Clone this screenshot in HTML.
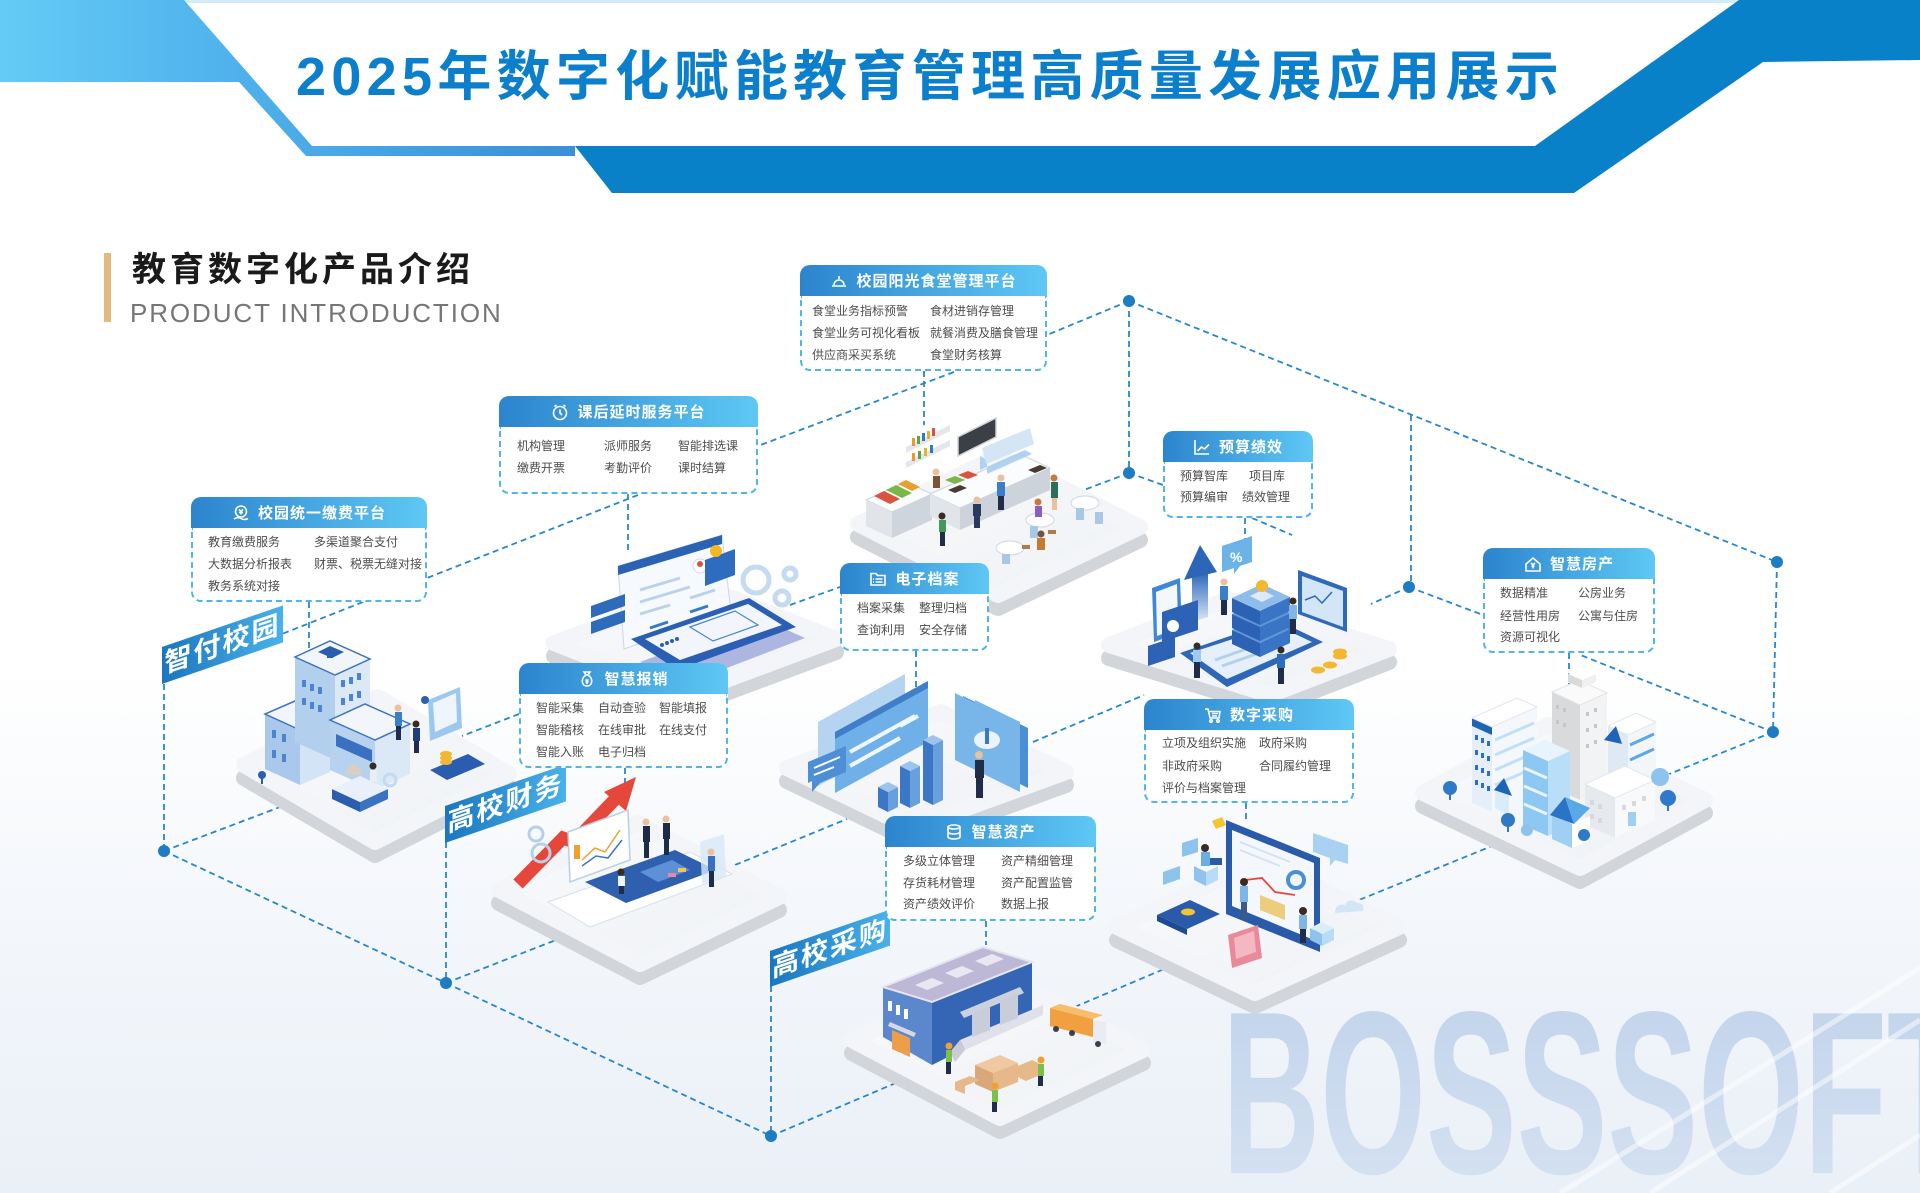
<!DOCTYPE html>
<html><head><meta charset="utf-8">
<style>
*{margin:0;padding:0;box-sizing:border-box}
html,body{width:1920px;height:1193px;overflow:hidden}
body{position:relative;background:linear-gradient(180deg,#ffffff 0%,#ffffff 56%,#f4f7fb 76%,#eaf0f7 100%);font-family:"Liberation Sans","Noto Sans CJK SC",sans-serif}
svg.bg{position:absolute;left:0;top:0}
.title{position:absolute;left:296px;top:46px;font-size:54px;line-height:62px;font-weight:bold;color:#0b7fcb;letter-spacing:5.3px;white-space:nowrap}
.bar{position:absolute;left:104px;top:253px;width:7px;height:69px;background:#e3b97f}
.sec{position:absolute;left:132px;top:250px;font-size:34px;line-height:40px;font-weight:bold;color:#1a1a1a;letter-spacing:4px;white-space:nowrap}
.sec2{position:absolute;left:130px;top:298px;font-size:26px;line-height:30px;color:#767676;letter-spacing:1.9px;white-space:nowrap}
.box{position:absolute}
.hd{height:31px;border-radius:10px 10px 0 0;background:linear-gradient(90deg,#2c84cd,#5ec8f5);display:flex;align-items:center;justify-content:center;color:#fff;font-weight:bold;font-size:15px;letter-spacing:1px;white-space:nowrap}
.hd svg{margin-right:8px;flex:none}
.bd{position:relative;background:#fff;border:2px dashed #52b4e8;border-top:none;border-radius:0 0 10px 10px}
.bd span{position:absolute;font-size:12px;line-height:16px;color:#4d4d4d;white-space:nowrap}
.lab{position:absolute;transform-origin:0 0;transform:skewY(-19deg);background:linear-gradient(90deg,#1b76bf,#49b2ea);color:#fff;font-weight:bold;font-size:27px;line-height:37px;letter-spacing:2px;text-align:center;white-space:nowrap}
</style></head><body>
<svg class="bg" width="1920" height="1193" viewBox="0 0 1920 1193">
<defs>
<linearGradient id="lb" x1="0" y1="0" x2="1" y2="0"><stop offset="0" stop-color="#64cbf6"/><stop offset="0.4" stop-color="#4fb2ec"/><stop offset="1" stop-color="#3a8fd6"/></linearGradient>
<linearGradient id="wm" x1="0" y1="0" x2="0" y2="1"><stop offset="0" stop-color="#bfd2eb"/><stop offset="1" stop-color="#d8e3f2"/></linearGradient>
<linearGradient id="pf" x1="0" y1="0" x2="1" y2="1"><stop offset="0" stop-color="#f9fafc"/><stop offset="1" stop-color="#eef1f4"/></linearGradient>
<linearGradient id="arr" x1="0" y1="0" x2="0" y2="1"><stop offset="0" stop-color="#2c66b8"/><stop offset="1" stop-color="#dbe8f6"/></linearGradient>
</defs>

<!-- header -->
<rect x="184" y="0" width="1555" height="3" fill="#d3ecf9"/>
<polygon points="0,0 184,0 312,146 575,146 575,156 306,156 239,82 0,82" fill="url(#lb)"/>
<polygon points="575,146 1535,146 1739,0 1920,0 1920,60 1763,62 1574,193 612,193" fill="#0881c9"/>

<!-- watermark -->
<text x="1222" y="1173" font-family="Liberation Sans, sans-serif" font-weight="bold" font-size="232" textLength="748" lengthAdjust="spacingAndGlyphs" fill="url(#wm)">BOSSSOFT</text>
<g stroke="#ffffff" stroke-width="5" opacity="0.5">
<line x1="1560" y1="1193" x2="1920" y2="968"/><line x1="1650" y1="1193" x2="1920" y2="1020"/><line x1="1830" y1="1193" x2="1920" y2="1135"/>
</g>

<!-- dashed connectors -->
<g fill="none" stroke="#2687cf" stroke-width="1.8" stroke-dasharray="6 4">
<path d="M1129,301 V473"/>
<path d="M1129,301 L1777,562"/>
<path d="M1129,301 L1047,335"/>
<path d="M924,371 V425"/>
<path d="M954,372 L758,446"/>
<path d="M628,494 V550"/>
<path d="M638,495 L427,578"/>
<path d="M309,602 V660"/>
<path d="M363,602 L282,634"/>
<path d="M164,684 V851"/>
<path d="M164,851 L446,983"/>
<path d="M164,851 L288,804"/>
<path d="M446,842 V983"/>
<path d="M446,983 L771,1136"/>
<path d="M446,983 L561,938"/>
<path d="M771,986 V1136"/>
<path d="M771,1136 L1190,958"/>
<path d="M625,768 V800"/>
<path d="M519,714 L462,736"/>
<path d="M735,865 L847,819"/>
<path d="M790,605 L840,587"/>
<path d="M916,651 V690"/>
<path d="M1033,742 L1144,695"/>
<path d="M1246,803 V822"/>
<path d="M986,921 V945"/>
<path d="M1129,473 L1076,493"/>
<path d="M1129,473 L1163,485"/>
<path d="M1245,518 V540"/>
<path d="M1252,518 L1292,535"/>
<path d="M1411,415 V587"/>
<path d="M1409,587 L1483,615"/>
<path d="M1409,587 L1371,604"/>
<path d="M1777,562 L1773,732"/>
<path d="M1773,732 L1578,654"/>
<path d="M1569,653 V697"/>
<path d="M1773,732 L1359,900"/>
</g>
<g fill="#1d7cc2">
<circle cx="1129" cy="301" r="6"/><circle cx="1129" cy="473" r="6"/><circle cx="1409" cy="587" r="6"/>
<circle cx="1777" cy="562" r="6"/><circle cx="1773" cy="732" r="6"/><circle cx="164" cy="851" r="6"/>
<circle cx="446" cy="983" r="6"/><circle cx="771" cy="1136" r="6"/>
</g>

<!-- platforms -->
<g stroke-linejoin="round" stroke-width="16">
<polygon points="858,537 998,608 1140,540 999,469" fill="#d2d5d9" stroke="#d2d5d9"/>
<polygon points="858,524 998,595 1140,527 999,456" fill="url(#pf)" stroke="#f3f5f8"/>
<polygon points="554,656 686,708 836,652 704,600" fill="#d2d5d9" stroke="#d2d5d9"/>
<polygon points="554,643 686,695 836,639 704,587" fill="url(#pf)" stroke="#f3f5f8"/>
<polygon points="244,778 375,855 509,787 378,710" fill="#d2d5d9" stroke="#d2d5d9"/>
<polygon points="244,765 375,842 509,774 378,697" fill="url(#pf)" stroke="#f3f5f8"/>
<polygon points="499,903 640,977 779,910 638,836" fill="#d2d5d9" stroke="#d2d5d9"/>
<polygon points="499,890 640,964 779,897 638,823" fill="url(#pf)" stroke="#f3f5f8"/>
<polygon points="787,781 912,841 1066,785 941,725" fill="#d2d5d9" stroke="#d2d5d9"/>
<polygon points="787,768 912,828 1066,772 941,712" fill="url(#pf)" stroke="#f3f5f8"/>
<polygon points="1109,658 1270,708 1389,662 1228,612" fill="#d2d5d9" stroke="#d2d5d9"/>
<polygon points="1109,645 1270,695 1389,649 1228,599" fill="url(#pf)" stroke="#f3f5f8"/>
<polygon points="1117,940 1255,1006 1399,940 1261,874" fill="#d2d5d9" stroke="#d2d5d9"/>
<polygon points="1117,927 1255,993 1399,927 1261,861" fill="url(#pf)" stroke="#f3f5f8"/>
<polygon points="852,1053 1000,1131 1143,1063 995,985" fill="#d2d5d9" stroke="#d2d5d9"/>
<polygon points="852,1040 1000,1118 1143,1050 995,972" fill="url(#pf)" stroke="#f3f5f8"/>
<polygon points="1423,806 1580,881 1705,813 1548,738" fill="#d2d5d9" stroke="#d2d5d9"/>
<polygon points="1423,793 1580,868 1705,800 1548,725" fill="url(#pf)" stroke="#f3f5f8"/>
</g>

<!-- P1 canteen -->
<g>
<polygon points="906,462 950,440 950,446 906,468" fill="#e3e7ec"/>
<polygon points="906,447 950,425 950,431 906,453" fill="#e3e7ec"/>
<g><rect x="912" y="438" width="3" height="8" fill="#e89a2c"/><rect x="917" y="436" width="3" height="8" fill="#5aa34a"/><rect x="922" y="433" width="3" height="8" fill="#2f7ac4"/><rect x="927" y="431" width="3" height="8" fill="#e0b430"/><rect x="932" y="428" width="3" height="8" fill="#d9533f"/><rect x="912" y="453" width="3" height="8" fill="#e89a2c"/><rect x="918" y="451" width="3" height="8" fill="#5aa34a"/><rect x="924" y="448" width="3" height="8" fill="#e0b430"/><rect x="930" y="445" width="3" height="8" fill="#2f7ac4"/></g>
<polygon points="958,437 996,418 996,437 958,456" fill="#3b3f46" stroke="#cfd3d8" stroke-width="1.5"/>
<polygon points="866,500 906,482 932,494 892,512" fill="#fbfcfd" stroke="#cfd4db"/>
<polygon points="866,500 892,512 892,538 866,526" fill="#e1e5ea"/>
<polygon points="892,512 932,494 932,520 892,538" fill="#cfd5dc"/>
<polygon points="874,496 884,491 900,499 890,504" fill="#d9533f"/><polygon points="886,490 896,485 912,493 902,498" fill="#7ab648"/><polygon points="898,484 906,480 920,487 912,491" fill="#e8a02c"/>
<polygon points="930,494 1020,454 1050,468 960,508" fill="#fbfcfd" stroke="#cfd4db"/>
<polygon points="930,494 960,508 960,530 930,516" fill="#e1e5ea"/>
<polygon points="960,508 1050,468 1050,490 960,530" fill="#cdd3da"/>
<polygon points="980,470 1025,450 1032,454 987,474 987,460 980,456" fill="#a9cdee" opacity="0.9"/>
<polygon points="982,448 1030,428 1034,444 986,464" fill="#cfe3f5" opacity="0.9"/>
<polygon points="1028,470 1040,465 1047,468 1035,473" fill="#4a3a33"/>
<polygon points="948,490 960,485 967,488 955,493" fill="#4a3a33"/>
<polygon points="945,480 955,476 965,480 955,484" fill="#7ab648"/><polygon points="958,475 968,471 978,475 968,479" fill="#d9533f"/>
<ellipse cx="1010" cy="548" rx="14" ry="7" fill="#fff" stroke="#cfd6de"/>
<ellipse cx="1040" cy="520" rx="14" ry="7" fill="#fff" stroke="#cfd6de"/>
<ellipse cx="1085" cy="503" rx="14" ry="7" fill="#fff" stroke="#cfd6de"/>
<g fill="#a9c7e6"><rect x="1030" y="526" width="8" height="12"/><rect x="1076" y="508" width="8" height="12"/><rect x="1095" y="512" width="8" height="12"/><rect x="1002" y="554" width="8" height="10"/></g>
<g fill="#b07a4f"><rect x="1048" y="530" width="8" height="4"/><rect x="1022" y="545" width="8" height="4"/></g>
<g><rect x="933" y="476" width="7" height="12" fill="#7a5235"/><circle cx="936" cy="472" r="3.5" fill="#e9c19f"/></g>
<g><rect x="973" y="504" width="8" height="12" fill="#2a3a5c"/><rect x="974" y="516" width="6" height="12" fill="#2a3a5c"/><circle cx="977" cy="500" r="3.5" fill="#e9c19f"/></g>
<g><rect x="997" y="482" width="8" height="14" fill="#3b7fc8"/><rect x="998" y="496" width="6" height="14" fill="#1f2c4a"/><circle cx="1001" cy="478" r="3.5" fill="#e9c19f"/></g>
<g><rect x="1051" y="482" width="7" height="16" fill="#2e6f5a"/><rect x="1052" y="498" width="5" height="12" fill="#e9c19f"/><circle cx="1054" cy="478" r="3.5" fill="#c77a3a"/></g>
<g><rect x="939" y="520" width="7" height="12" fill="#3f9a5c"/><rect x="940" y="532" width="5" height="14" fill="#1f2c4a"/><circle cx="942" cy="516" r="3.5" fill="#3a2a20"/></g>
<g><rect x="1037" y="538" width="8" height="12" fill="#c27a35"/><circle cx="1041" cy="534" r="3.5" fill="#7a5235"/></g>
<g><rect x="1035" y="506" width="7" height="11" fill="#8a5fc2"/><circle cx="1038" cy="502" r="3.5" fill="#c77a3a"/></g>
</g>

<!-- P2 after-school -->
<g>
<polygon points="640,662 760,618 805,638 685,684" fill="#8f9bd5" opacity="0.7"/>
<polygon points="618,566 722,535 731,612 624,649" fill="#f6f9fd" stroke="#c7d8ec"/>
<polygon points="618,566 722,535 722,544 618,575" fill="#2a62b4"/>
<g stroke="#bcd1ea" stroke-width="3"><line x1="640" y1="590" x2="680" y2="578"/><line x1="640" y1="602" x2="690" y2="587"/><line x1="640" y1="614" x2="670" y2="605"/><line x1="690" y1="598" x2="715" y2="590"/></g>
<g stroke="#3a78c8" stroke-width="3"><line x1="690" y1="612" x2="708" y2="606"/><line x1="650" y1="628" x2="668" y2="622"/></g>
<circle cx="700" cy="566" r="7" fill="#fff" stroke="#cfdcec"/><circle cx="700" cy="564" r="3" fill="#d9533f"/>
<polygon points="705,560 735,549 735,575 705,586" fill="#2e6cc0"/>
<circle cx="716" cy="551" r="6" fill="#f5b820"/>
<polygon points="591,606 625,594 625,606 591,618" fill="#2f6bbb"/>
<polygon points="591,622 625,610 625,622 591,634" fill="#2f6bbb"/>
<polygon points="631,639 749,598 796,627 677,670" fill="#2a5fb4"/>
<polygon points="645,639 748,604 782,625 680,660" fill="#f2f6fc"/>
<polygon points="690,627 735,611 758,625 713,641" fill="none" stroke="#4a86d0" stroke-width="1.2"/>
<g fill="#2a5fb4"><circle cx="662" cy="645" r="2"/><circle cx="667" cy="643" r="2"/><circle cx="672" cy="641" r="2"/><circle cx="677" cy="639" r="2"/></g>
<g fill="none" stroke="#c4daf0" stroke-width="5"><circle cx="756" cy="580" r="13"/><circle cx="782" cy="598" r="7"/><circle cx="790" cy="574" r="6"/></g>
</g>

<!-- P3 campus building -->
<g>
<polygon points="300,785 265,769 265,714 300,730" fill="#a9c8ec"/>
<polygon points="300,785 330,772 330,717 300,730" fill="#d3e4f6"/>
<polygon points="300,730 265,714 295,701 330,717" fill="#f2f6fb" stroke="#3e73c1" stroke-width="1.5"/>
<polygon points="335,760 295,742 295,657 335,675" fill="#b3cfee"/>
<polygon points="335,760 370,744 370,659 335,675" fill="#dbe9f7"/>
<polygon points="335,675 295,657 330,641 370,659" fill="#f2f6fb" stroke="#3e73c1" stroke-width="1.5"/>
<polygon points="318,652 330,646 344,652 332,658" fill="#2b5fae"/><rect x="327" y="652" width="6" height="6" fill="#2b5fae"/>
<g fill="#4d84cf"><rect x="302" y="680" width="4" height="7"/><rect x="310" y="684" width="4" height="7"/><rect x="318" y="687" width="4" height="7"/><rect x="302" y="698" width="4" height="7"/><rect x="310" y="702" width="4" height="7"/><rect x="318" y="705" width="4" height="7"/><rect x="341" y="680" width="4" height="7"/><rect x="349" y="677" width="4" height="7"/><rect x="357" y="673" width="4" height="7"/><rect x="341" y="698" width="4" height="7"/><rect x="349" y="694" width="4" height="7"/><rect x="357" y="691" width="4" height="7"/><rect x="272" y="730" width="4" height="8"/><rect x="282" y="734" width="4" height="8"/><rect x="272" y="750" width="4" height="8"/><rect x="282" y="754" width="4" height="8"/></g>
<polygon points="375,790 330,770 330,720 375,740" fill="#b7d2ef"/>
<polygon points="375,790 410,774 410,724 375,740" fill="#dbe9f7"/>
<polygon points="375,740 330,720 365,704 410,724" fill="#f2f6fb" stroke="#3e73c1" stroke-width="1.5"/>
<polygon points="336,734 372,750 372,762 336,746" fill="#3a70c0"/>
<path d="M345,775 q8,-22 18,0 z" fill="#d8cfc4"/>
<polygon points="360,812 332,799 332,789 360,802" fill="#2b5fae"/>
<polygon points="360,812 388,799 388,789 360,802" fill="#3b72c2"/>
<polygon points="360,802 332,789 360,776 388,789" fill="#e9f0f9"/>
<polygon points="428,700 460,687 462,728 430,741" fill="#9cc8ef"/>
<polygon points="433,703 456,693 457,722 435,732" fill="#eef5fc"/>
<polygon points="430,770 468,754 485,764 447,780" fill="#2a5db0"/>
<g fill="#f3b731"><ellipse cx="446" cy="762" rx="6" ry="3"/><ellipse cx="446" cy="758" rx="6" ry="3"/><ellipse cx="446" cy="754" rx="6" ry="3"/></g>
<g><rect x="395" y="712" width="7" height="14" fill="#3b7fc8"/><rect x="396" y="726" width="5" height="14" fill="#1f2c4a"/><circle cx="398" cy="708" r="3.5" fill="#e9c19f"/></g>
<g><rect x="413" y="728" width="7" height="13" fill="#1f3f7a"/><rect x="414" y="741" width="5" height="12" fill="#1f2c4a"/><circle cx="416" cy="724" r="3.5" fill="#3a2a20"/></g>
<g><rect x="370" y="770" width="7" height="12" fill="#e9eef5"/><circle cx="373" cy="766" r="3.5" fill="#3a2a20"/></g>
<circle cx="390" cy="780" r="6" fill="none" stroke="#c4daf0" stroke-width="3"/>
<g fill="#2b5fae"><circle cx="262" cy="775" r="4"/><rect x="261" y="778" width="2" height="6"/><circle cx="425" cy="700" r="4"/></g>
</g>

<!-- P4 finance -->
<g>
<polygon points="548,902 690,852 732,874 590,927" fill="#ffffff" stroke="#d6e0eb"/>
<polygon points="585,882 675,850 716,870 626,903" fill="#2f60b0"/>
<polygon points="640,872 672,860 690,870 658,882" fill="#5d90d6"/>
<g fill="#f1c84a"><rect x="678" y="868" width="8" height="4"/></g>
<g fill="#e58aa0"><rect x="668" y="873" width="8" height="4"/></g>
<polyline points="518,884 563,838 574,842 622,792" fill="none" stroke="#e5483a" stroke-width="13" stroke-linejoin="miter"/>
<polygon points="636,777 626,811 604,792" fill="#e5483a"/>
<polygon points="568,832 628,810 630,860 570,882" fill="#ffffff" stroke="#b9cfe6" stroke-width="1.5"/>
<rect x="574" y="845" width="6" height="14" fill="#f0a030"/>
<polyline points="582,860 595,848 605,852 620,830" fill="none" stroke="#f0a030" stroke-width="1.5"/>
<polyline points="582,866 596,856 608,858 622,840" fill="none" stroke="#3a78c8" stroke-width="1.5"/>
<g><rect x="643" y="826" width="7" height="16" fill="#1e2b48"/><rect x="644" y="842" width="5" height="16" fill="#1e2b48"/><circle cx="646" cy="822" r="3.5" fill="#e9c19f"/></g>
<g><rect x="663" y="823" width="7" height="16" fill="#1e2b48"/><rect x="664" y="839" width="5" height="16" fill="#1e2b48"/><circle cx="666" cy="819" r="3.5" fill="#e9c19f"/></g>
<polygon points="700,842 724,834 726,876 702,884" fill="#d7e8f7" opacity="0.8"/>
<g><rect x="708" y="856" width="7" height="15" fill="#3b6fc4"/><rect x="709" y="871" width="5" height="16" fill="#1f2c4a"/><circle cx="711" cy="852" r="3.5" fill="#e9c19f"/></g>
<g><rect x="618" y="876" width="7" height="10" fill="#eef3f9"/><rect x="619" y="886" width="5" height="8" fill="#1f2c4a"/><circle cx="621" cy="872" r="3.5" fill="#3a2a20"/></g>
<g fill="none" stroke="#b6d0ea" stroke-width="3"><circle cx="536" cy="834" r="7"/><circle cx="541" cy="853" r="9"/></g>
</g>

<!-- P5 archive -->
<g>
<polygon points="818,722 905,674 905,738 818,786" fill="#b5d4f1"/>
<polygon points="835,732 928,681 928,742 835,793" fill="#6fb0e8"/>
<polygon points="835,732 928,681 928,688 835,739" fill="#3f7ec8"/>
<g stroke="#ffffff" stroke-width="4" opacity="0.9"><line x1="850" y1="752" x2="915" y2="716"/><line x1="850" y1="766" x2="900" y2="738"/><line x1="900" y1="726" x2="918" y2="716"/></g>
<polygon points="808,762 846,746 846,772 820,783 812,792 812,781 808,783" fill="#4d8ed6"/>
<g stroke="#fff" stroke-width="2"><line x1="814" y1="768" x2="840" y2="757"/><line x1="814" y1="775" x2="834" y2="767"/></g>
<polygon points="888,812 878,807 878,787 888,792" fill="#3c77c6"/><polygon points="888,812 898,807 898,787 888,792" fill="#68a0dd"/><polygon points="888,792 878,787 888,782 898,787" fill="#9cc4ec"/>
<polygon points="910,808 900,803 900,766 910,771" fill="#3c77c6"/><polygon points="910,808 920,803 920,766 910,771" fill="#68a0dd"/><polygon points="910,771 900,766 910,761 920,766" fill="#9cc4ec"/>
<polygon points="933,805 923,800 923,740 933,745" fill="#3c77c6"/><polygon points="933,805 943,800 943,740 933,745" fill="#68a0dd"/><polygon points="933,745 923,740 933,735 943,740" fill="#9cc4ec"/>
<polygon points="963,696 1028,728 1028,788 963,756" fill="#4a8fd6"/>
<polygon points="955,693 975,703 975,700 1020,722 1020,792 955,760" fill="#78b6ea"/>
<ellipse cx="987" cy="740" rx="13" ry="9" fill="#ffffff" opacity="0.85"/>
<rect x="985" y="728" width="4" height="16" fill="#3c77c6"/>
<g><rect x="975" y="760" width="9" height="18" fill="#1f2c4a"/><rect x="976" y="778" width="7" height="20" fill="#1f2c4a"/><circle cx="979" cy="755" r="4" fill="#e9c19f"/></g>
</g>

<!-- P6 budget -->
<g>
<polygon points="1180,653 1277,620 1323,642 1227,687" fill="#2f67b8"/>
<polygon points="1190,653 1276,625 1312,642 1227,679" fill="#e6f0fa"/>
<g stroke="#a9c9ec" stroke-width="3" opacity="0.8"><line x1="1215" y1="660" x2="1255" y2="646"/><line x1="1222" y1="666" x2="1262" y2="652"/></g>
<polygon points="1260,657 1232,644 1232,630 1260,643" fill="#2b62b3"/><polygon points="1260,657 1290,643 1290,629 1260,643" fill="#3a74c4"/><polygon points="1260,643 1232,630 1262,616 1290,629" fill="#5d95d8"/>
<polygon points="1260,641 1232,628 1232,614 1260,627" fill="#2b62b3"/><polygon points="1260,641 1290,627 1290,613 1260,627" fill="#3a74c4"/><polygon points="1260,627 1232,614 1262,600 1290,613" fill="#5d95d8"/>
<polygon points="1260,625 1232,612 1232,598 1260,611" fill="#2b62b3"/><polygon points="1260,625 1290,611 1290,597 1260,611" fill="#3a74c4"/><polygon points="1260,611 1232,598 1262,584 1290,597" fill="#8ebdeb"/>
<polygon points="1250,596 1262,590 1274,596 1262,602" fill="#ffffff" opacity="0.7"/>
<circle cx="1262" cy="586" r="6" fill="#f3b731"/>
<polygon points="1192,578 1208,572 1208,617 1192,622" fill="url(#arr)"/>
<polygon points="1184,580 1200,545 1217,572" fill="#2c66b8"/>
<polygon points="1152,588 1180,578 1182,632 1154,642" fill="#3f88d8"/><polygon points="1156,592 1177,584 1178,628 1157,636" fill="#f4f8fc"/>
<polygon points="1162,612 1198,600 1198,630 1162,642" fill="#2d63b4"/><circle cx="1173" cy="626" r="6" fill="#fff"/>
<polygon points="1148,646 1175,637 1175,657 1148,666" fill="#2d63b4"/>
<polygon points="1298,570 1347,588 1347,632 1298,614" fill="#2f6ab8"/><polygon points="1302,576 1343,591 1343,627 1302,612" fill="#d3e6f8"/>
<polyline points="1305,600 1315,596 1322,603 1332,592" fill="none" stroke="#2f6ab8" stroke-width="1.5"/>
<polygon points="1222,546 1252,536 1252,562 1240,566 1234,574 1234,568 1222,572" fill="#6cb3e8"/>
<text x="1230" y="562" font-family="Liberation Sans, sans-serif" font-weight="bold" font-size="14" fill="#fff">%</text>
<g fill="#f3b731"><ellipse cx="1330" cy="665" rx="7" ry="3.5"/><ellipse cx="1340" cy="656" rx="7" ry="3.5"/><ellipse cx="1340" cy="652" rx="7" ry="3.5"/><ellipse cx="1318" cy="670" rx="7" ry="3.5"/></g>
<g><rect x="1220" y="586" width="8" height="14" fill="#3b7fc8"/><rect x="1221" y="600" width="6" height="15" fill="#1f2c4a"/><circle cx="1224" cy="582" r="3.5" fill="#e9c19f"/></g>
<g><rect x="1289" y="605" width="8" height="14" fill="#7fb6e6"/><rect x="1290" y="619" width="6" height="15" fill="#1f2c4a"/><circle cx="1293" cy="601" r="3.5" fill="#3a2a20"/></g>
<g><rect x="1277" y="654" width="8" height="14" fill="#2e6cc0"/><rect x="1278" y="668" width="6" height="16" fill="#1f2c4a"/><circle cx="1281" cy="650" r="3.5" fill="#3a2a20"/></g>
<g><rect x="1193" y="650" width="8" height="12" fill="#9fcaf0"/><rect x="1194" y="662" width="6" height="16" fill="#1f2c4a"/><circle cx="1197" cy="646" r="3.5" fill="#3a2a20"/></g>
</g>

<!-- P7 procurement -->
<g>
<polygon points="1226,820 1320,858 1320,952 1226,914" fill="#2a5aaa"/>
<polygon points="1232,830 1314,863 1314,940 1232,906" fill="#f4f8fc"/>
<g stroke="#d3e3f3" stroke-width="2"><line x1="1240" y1="842" x2="1290" y2="862"/><line x1="1240" y1="850" x2="1280" y2="866"/></g>
<polyline points="1245,880 1262,878 1275,892 1295,895" fill="none" stroke="#e5483a" stroke-width="1.8"/>
<circle cx="1296" cy="880" r="8" fill="none" stroke="#4a8fd6" stroke-width="4"/>
<polygon points="1260,895 1285,905 1285,920 1260,910" fill="#e8c25a" opacity="0.8"/>
<polygon points="1313,833 1348,845 1348,864 1335,860 1330,866 1330,858 1313,852" fill="#a9d2f2"/>
<polygon points="1182,843 1198,838 1198,852 1182,857" fill="#8ec3ee"/>
<polygon points="1163,872 1180,866 1180,879 1163,885" fill="#8ec3ee"/>
<polygon points="1212,821 1222,817 1226,825 1216,829" fill="#f3c531"/>
<polygon points="1157,915 1190,900 1220,914 1187,929" fill="#2a5aaa"/><polygon points="1157,915 1187,929 1187,935 1157,921" fill="#1e4a92"/>
<ellipse cx="1188" cy="912" rx="7" ry="3.5" fill="#f3c531"/>
<polygon points="1206,886 1194,880 1194,866 1206,872" fill="#8ec3ee"/><polygon points="1206,886 1218,880 1218,866 1206,872" fill="#b8dcf6"/>
<g><rect x="1201" y="852" width="9" height="14" fill="#6aaee6"/><circle cx="1205" cy="848" r="4" fill="#3a2a20"/><rect x="1210" y="858" width="12" height="7" fill="#2a5aaa"/></g>
<polygon points="1228,935 1258,925 1262,958 1232,968" fill="#e98a9a"/><polygon points="1234,938 1254,931 1256,952 1236,959" fill="#f4b8c2"/>
<g><rect x="1240" y="886" width="8" height="16" fill="#7fb6e6"/><rect x="1241" y="902" width="6" height="18" fill="#3a5a8a"/><circle cx="1244" cy="882" r="4" fill="#3a2a20"/></g>
<g><rect x="1299" y="915" width="8" height="14" fill="#7fb6e6"/><rect x="1300" y="929" width="6" height="14" fill="#1f2c4a"/><circle cx="1303" cy="911" r="4" fill="#3a2a20"/></g>
<polygon points="1322,946 1310,940 1310,928 1322,934" fill="#8ec3ee"/><polygon points="1322,946 1334,940 1334,928 1322,934" fill="#b8dcf6"/><polygon points="1322,934 1310,928 1322,922 1334,928" fill="#dcedfa"/>
<path d="M1335,913 q0,-10 10,-8 q4,-8 12,-2 q8,0 6,8 z" fill="#d2e6f6"/>
</g>

<!-- P8 warehouse -->
<g>
<polygon points="883,987 883,1037 932,1065 932,1002" fill="#5b87cc"/>
<polygon points="932,1002 1032,962 1032,1015 932,1065" fill="#3566b5"/>
<polygon points="883,987 983,947 1032,962 932,1002" fill="#bdb8d6" stroke="#e6e4ee" stroke-width="2"/>
<g fill="#e9e8f2"><polygon points="915,985 932,978 944,983 927,990"/><polygon points="945,973 962,966 974,971 957,978"/><polygon points="975,961 992,954 1004,959 987,966"/></g>
<g fill="#ffffff"><rect x="888" y="1001" width="4" height="10"/><rect x="896" y="1005" width="4" height="10"/><rect x="904" y="1009" width="4" height="10"/></g>
<polygon points="892,1030 910,1038 910,1057 892,1049" fill="#ee9d48"/>
<polygon points="888,1026 914,1037 916,1033 890,1022" fill="#d8d8e4"/>
<polygon points="960,1040 1043,1005 1043,1015 965,1050" fill="#dfe0ea"/>
<polygon points="960,1040 965,1050 955,1062 950,1052" fill="#c9cbd8"/>
<polygon points="960,1012 1020,987 1024,993 964,1018" fill="#cdd0de"/>
<g fill="#c9ccd9"><polygon points="972,1013 990,1006 990,1030 972,1037"/><polygon points="1000,1001 1018,994 1018,1018 1000,1025"/></g>
<polygon points="1050,1008 1093,1019 1093,1037 1050,1026" fill="#f0a040"/>
<polygon points="1050,1008 1060,1004 1103,1015 1093,1019" fill="#f7bd6a"/>
<polygon points="1093,1020 1106,1022 1106,1044 1093,1042" fill="#e9edf3"/>
<g fill="#3a3f4a"><circle cx="1056" cy="1029" r="3"/><circle cx="1072" cy="1033" r="3"/><circle cx="1098" cy="1044" r="3"/></g>
<polygon points="975,1065 1000,1055 1018,1063 993,1073" fill="#efc9a2"/>
<polygon points="975,1065 993,1073 993,1092 975,1084" fill="#d9a77a"/>
<polygon points="993,1073 1018,1063 1018,1082 993,1092" fill="#e6b88a"/>
<polygon points="955,1082 970,1076 980,1080 965,1086 965,1094 955,1090" fill="#e6b88a"/>
<polygon points="1018,1066 1032,1060 1040,1064 1040,1075 1026,1081 1018,1077" fill="#e6b88a"/>
<g><rect x="946" y="1050" width="6" height="12" fill="#7ac04a"/><rect x="946" y="1062" width="5" height="12" fill="#1f2c4a"/><circle cx="949" cy="1046" r="3.5" fill="#f0a030"/></g>
<g><rect x="992" y="1090" width="6" height="12" fill="#7ac04a"/><rect x="992" y="1102" width="5" height="10" fill="#1f2c4a"/><circle cx="995" cy="1086" r="3.5" fill="#f0a030"/></g>
<g><rect x="1038" y="1064" width="6" height="12" fill="#7ac04a"/><rect x="1038" y="1076" width="5" height="10" fill="#1f2c4a"/><circle cx="1041" cy="1060" r="3.5" fill="#f0a030"/></g>
</g>

<!-- P9 real estate -->
<g>
<polygon points="1492,812 1472,803 1472,718 1492,727" fill="#e6eff9"/>
<polygon points="1472,718 1492,727 1492,735 1472,726" fill="#1e64b5"/>
<g fill="#2a6fc0"><rect x="1475" y="735" width="3" height="5"/><rect x="1481" y="738" width="3" height="5"/><rect x="1487" y="741" width="3" height="5"/><rect x="1475" y="750" width="3" height="5"/><rect x="1481" y="753" width="3" height="5"/><rect x="1487" y="756" width="3" height="5"/><rect x="1475" y="765" width="3" height="5"/><rect x="1481" y="768" width="3" height="5"/><rect x="1487" y="771" width="3" height="5"/><rect x="1475" y="780" width="3" height="5"/><rect x="1481" y="783" width="3" height="5"/><rect x="1487" y="786" width="3" height="5"/></g>
<polygon points="1492,812 1537,792 1537,707 1492,727" fill="#f4f8fc"/>
<g stroke="#bfe0f7" stroke-width="3"><line x1="1495" y1="740" x2="1534" y2="723"/><line x1="1495" y1="755" x2="1534" y2="738"/><line x1="1495" y1="770" x2="1534" y2="753"/><line x1="1495" y1="785" x2="1534" y2="768"/></g>
<polygon points="1492,727 1472,718 1517,698 1537,707" fill="#ffffff" stroke="#e1e6ec"/>
<polygon points="1580,800 1552,787 1552,692 1580,705" fill="#d9dadc"/>
<polygon points="1580,800 1607,788 1607,693 1580,705" fill="#f2f3f5"/>
<polygon points="1580,705 1552,692 1579,680 1607,693" fill="#fafafa" stroke="#e4e4e6"/>
<polygon points="1582,688 1568,682 1568,674 1582,680" fill="#d9dadc"/><polygon points="1582,688 1596,682 1596,674 1582,680" fill="#f0f0f2"/><polygon points="1582,680 1568,674 1582,668 1596,674" fill="#fff"/>
<g fill="#c4c6ca"><rect x="1556" y="705" width="3" height="4"/><rect x="1563" y="708" width="3" height="4"/><rect x="1556" y="720" width="3" height="4"/><rect x="1563" y="723" width="3" height="4"/><rect x="1586" y="712" width="3" height="4"/><rect x="1594" y="708" width="3" height="4"/><rect x="1586" y="728" width="3" height="4"/><rect x="1594" y="724" width="3" height="4"/><rect x="1586" y="744" width="3" height="4"/><rect x="1594" y="740" width="3" height="4"/></g>
<polygon points="1628,790 1608,781 1608,726 1628,735" fill="#dfe9f3"/>
<polygon points="1628,790 1656,777 1656,722 1628,735" fill="#f3f6f9"/>
<g stroke="#5aa8e6" stroke-width="3"><line x1="1630" y1="745" x2="1654" y2="734"/><line x1="1630" y1="760" x2="1654" y2="749"/></g>
<polygon points="1628,735 1608,726 1636,713 1656,722" fill="#fff" stroke="#e4e6ea"/>
<polygon points="1604,740 1616,726 1622,744" fill="#1e64b5"/>
<polygon points="1548,836 1523,825 1523,750 1548,761" fill="#8cc8f2"/>
<polygon points="1548,836 1570,826 1570,751 1548,761" fill="#b9def8"/>
<g stroke="#e9f5fd" stroke-width="3"><line x1="1524" y1="768" x2="1547" y2="778"/><line x1="1524" y1="786" x2="1547" y2="796"/><line x1="1524" y1="804" x2="1547" y2="814"/></g>
<polygon points="1548,761 1523,750 1545,740 1570,751" fill="#e8f4fc"/>
<polygon points="1615,838 1585,824 1585,784 1615,798" fill="#e6e9ee"/>
<polygon points="1615,838 1655,820 1655,780 1615,798" fill="#f8f9fb"/>
<polygon points="1615,798 1585,784 1625,766 1655,780" fill="#ffffff" stroke="#e4e6ea"/>
<g fill="#d6dade"><rect x="1590" y="800" width="4" height="5"/><rect x="1598" y="804" width="4" height="5"/><rect x="1590" y="814" width="4" height="5"/><rect x="1598" y="818" width="4" height="5"/><rect x="1622" y="805" width="4" height="5"/><rect x="1632" y="801" width="4" height="5"/><rect x="1642" y="796" width="4" height="5"/></g>
<rect x="1628" y="812" width="8" height="14" fill="#9fd0f3"/>
<polygon points="1572,848 1552,839 1552,815 1572,824" fill="#9fd0f3"/>
<polygon points="1572,848 1590,840 1590,816 1572,824" fill="#ffffff"/>
<polygon points="1550,815 1565,797 1574,824" fill="#2a74c8"/><polygon points="1565,797 1590,808 1574,824" fill="#5aa8e6"/>
<polygon points="1509,815 1495,808 1495,788 1509,795" fill="#d8ecfa"/><polygon points="1494,790 1504,778 1512,796" fill="#1e64b5"/>
<g fill="#2f7ac8"><circle cx="1450" cy="788" r="7"/><circle cx="1668" cy="798" r="8"/><circle cx="1508" cy="820" r="7"/><circle cx="1584" cy="835" r="6"/></g>
<g fill="#8ec3ee"><circle cx="1660" cy="777" r="9"/><circle cx="1527" cy="830" r="6"/></g>
<g fill="#2f7ac8"><rect x="1449" y="794" width="2" height="6"/><rect x="1667" y="805" width="2" height="6"/><rect x="1507" y="826" width="2" height="6"/></g>
</g>
</svg>

<div class="title">2025年数字化赋能教育管理高质量发展应用展示</div>
<div class="bar"></div>
<div class="sec">教育数字化产品介绍</div>
<div class="sec2">PRODUCT INTRODUCTION</div>

<div class="lab" style="left:162px;top:647px;width:121px;height:37px">智付校园</div>
<div class="lab" style="left:445px;top:806px;width:121px;height:37px">高校财务</div>
<div class="lab" style="left:770px;top:951px;width:120px;height:36px">高校采购</div>

<div class="box" style="left:800px;top:265px;width:247px">
<div class="hd"><svg width="18" height="18" viewBox="0 0 18 18" fill="none" stroke="#fff" stroke-width="1.6"><path d="M2 14h14M4 13a5 5 0 0 1 10 0M9 4v3"/></svg>校园阳光食堂管理平台</div>
<div class="bd" style="height:75px">
<span style="left:10px;top:7px">食堂业务指标预警</span><span style="left:128px;top:7px">食材进销存管理</span>
<span style="left:10px;top:29px">食堂业务可视化看板</span><span style="left:128px;top:29px">就餐消费及膳食管理</span>
<span style="left:10px;top:51px">供应商采买系统</span><span style="left:128px;top:51px">食堂财务核算</span>
</div></div>

<div class="box" style="left:499px;top:396px;width:259px">
<div class="hd"><svg width="18" height="18" viewBox="0 0 18 18" fill="none" stroke="#fff" stroke-width="1.6"><circle cx="9" cy="10" r="6.5"/><path d="M9 6.5v3.5l2 2M3.5 3.5l2-1.5M14.5 3.5l-2-1.5"/></svg>课后延时服务平台</div>
<div class="bd" style="height:67px">
<span style="left:16px;top:11px">机构管理</span><span style="left:103px;top:11px">派师服务</span><span style="left:177px;top:11px">智能排选课</span>
<span style="left:16px;top:33px">缴费开票</span><span style="left:103px;top:33px">考勤评价</span><span style="left:177px;top:33px">课时结算</span>
</div></div>

<div class="box" style="left:191px;top:497px;width:236px">
<div class="hd"><svg width="18" height="18" viewBox="0 0 18 18" fill="none" stroke="#fff" stroke-width="1.6"><circle cx="9" cy="7.5" r="5.5"/><path d="M7 5.5l2 2 2-2M9 7.5v3M7 8.5h4M2 15q4-2.5 7-0.5t7 0"/></svg>校园统一缴费平台</div>
<div class="bd" style="height:74px">
<span style="left:15px;top:6px">教育缴费服务</span><span style="left:121px;top:6px">多渠道聚合支付</span>
<span style="left:15px;top:28px">大数据分析报表</span><span style="left:121px;top:28px">财票、税票无缝对接</span>
<span style="left:15px;top:50px">教务系统对接</span>
</div></div>

<div class="box" style="left:519px;top:663px;width:209px">
<div class="hd"><svg width="18" height="18" viewBox="0 0 18 18" fill="none" stroke="#fff" stroke-width="1.6"><path d="M6 2h6l-2 3H8z"/><path d="M7.5 5.5C3 8 3 16 9 16s6-8 1.5-10.5"/><path d="M7.5 9.5l1.5 1.5 1.5-1.5M9 11v3M7.5 12h3"/></svg>智慧报销</div>
<div class="bd" style="height:74px">
<span style="left:15px;top:6px">智能采集</span><span style="left:77px;top:6px">自动查验</span><span style="left:138px;top:6px">智能填报</span>
<span style="left:15px;top:28px">智能稽核</span><span style="left:77px;top:28px">在线审批</span><span style="left:138px;top:28px">在线支付</span>
<span style="left:15px;top:50px">智能入账</span><span style="left:77px;top:50px">电子归档</span>
</div></div>

<div class="box" style="left:840px;top:563px;width:149px">
<div class="hd"><svg width="18" height="18" viewBox="0 0 18 18" fill="none" stroke="#fff" stroke-width="1.6"><path d="M2 3.5h5l1.5 2H16V15H2z"/><path d="M6.5 9h7M6.5 12h7M4 9h1M4 12h1"/></svg>电子档案</div>
<div class="bd" style="height:57px">
<span style="left:15px;top:6px">档案采集</span><span style="left:77px;top:6px">整理归档</span>
<span style="left:15px;top:28px">查询利用</span><span style="left:77px;top:28px">安全存储</span>
</div></div>

<div class="box" style="left:1163px;top:431px;width:150px">
<div class="hd"><svg width="18" height="18" viewBox="0 0 18 18" fill="none" stroke="#fff" stroke-width="1.6"><path d="M2 2v14h14M4.5 13l4-4 3 2 4.5-4.5"/></svg>预算绩效</div>
<div class="bd" style="height:56px">
<span style="left:15px;top:6px">预算智库</span><span style="left:84px;top:6px">项目库</span>
<span style="left:15px;top:27px">预算编审</span><span style="left:77px;top:27px">绩效管理</span>
</div></div>

<div class="box" style="left:1483px;top:548px;width:172px">
<div class="hd"><svg width="18" height="18" viewBox="0 0 18 18" fill="none" stroke="#fff" stroke-width="1.6"><path d="M2 9l7-6 7 6v7H2z"/><path d="M7 8l2 2 2-2M9 10v3.5M7.5 11.2h3"/></svg>智慧房产</div>
<div class="bd" style="height:74px">
<span style="left:15px;top:6px">数据精准</span><span style="left:93px;top:6px">公房业务</span>
<span style="left:15px;top:29px">经营性用房</span><span style="left:93px;top:29px">公寓与住房</span>
<span style="left:15px;top:50px">资源可视化</span>
</div></div>

<div class="box" style="left:1144px;top:699px;width:210px">
<div class="hd"><svg width="18" height="18" viewBox="0 0 18 18" fill="none" stroke="#fff" stroke-width="1.6"><path d="M1 3h3l2 9h9l1-6.5H5"/><circle cx="7" cy="15" r="1.3"/><circle cx="14" cy="15" r="1.3"/><path d="M8 7.5h6M8 10h5"/></svg>数字采购</div>
<div class="bd" style="height:73px">
<span style="left:16px;top:5px">立项及组织实施</span><span style="left:113px;top:5px">政府采购</span>
<span style="left:16px;top:28px">非政府采购</span><span style="left:113px;top:28px">合同履约管理</span>
<span style="left:16px;top:50px">评价与档案管理</span>
</div></div>

<div class="box" style="left:885px;top:816px;width:211px">
<div class="hd"><svg width="18" height="18" viewBox="0 0 18 18" fill="none" stroke="#fff" stroke-width="1.6"><ellipse cx="9" cy="4" rx="6" ry="2"/><path d="M3 4v10c0 1.1 2.7 2 6 2s6-.9 6-2V4M3 9c0 1.1 2.7 2 6 2s6-.9 6-2"/></svg>智慧资产</div>
<div class="bd" style="height:74px">
<span style="left:16px;top:6px">多级立体管理</span><span style="left:114px;top:6px">资产精细管理</span>
<span style="left:16px;top:28px">存货耗材管理</span><span style="left:114px;top:28px">资产配置监管</span>
<span style="left:16px;top:49px">资产绩效评价</span><span style="left:114px;top:49px">数据上报</span>
</div></div>

</body></html>
